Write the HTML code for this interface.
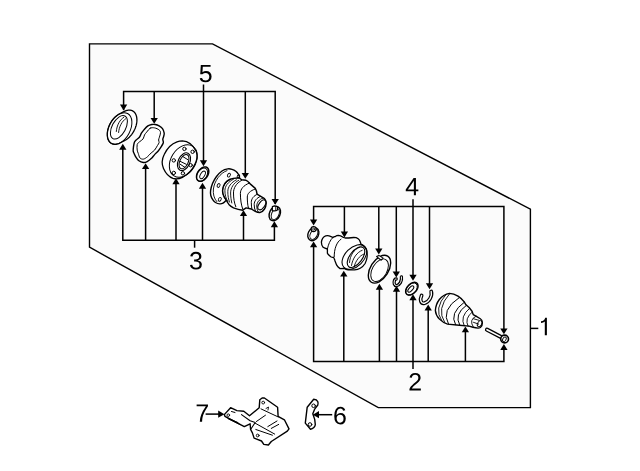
<!DOCTYPE html>
<html><head><meta charset="utf-8"><style>
html,body{margin:0;padding:0;background:#fff;width:640px;height:471px;overflow:hidden}
svg{display:block}
</style></head><body>
<svg width="640" height="471" viewBox="0 0 640 471">
<polygon points="89.5,43.9 212.5,43.9 530.4,209.2 530.4,407.6 378.3,407.6 89.5,247.2" fill="#fbfbfb" stroke="#000" stroke-width="1.4" stroke-linejoin="miter"/>
<g stroke="#000" stroke-width="1.5" fill="none"><polyline points="123.6,110 123.6,91.6 275.2,91.6 275.2,204" fill="none"/><polygon points="119.95,104.60 127.25,104.60 123.60,110.50" fill="#000" stroke="none"/><line x1="154.2" y1="91.6" x2="154.2" y2="120.8"/><polygon points="150.55,117.90 157.85,117.90 154.20,123.80" fill="#000" stroke="none"/><line x1="203.5" y1="84.5" x2="203.5" y2="163.2"/><polygon points="199.85,160.30 207.15,160.30 203.50,166.20" fill="#000" stroke="none"/><line x1="245.3" y1="91.6" x2="245.3" y2="175.8"/><polygon points="241.65,172.90 248.95,172.90 245.30,178.80" fill="#000" stroke="none"/><polygon points="271.55,198.90 278.85,198.90 275.20,204.80" fill="#000" stroke="none"/><polyline points="122.8,146 122.8,240.3 274.4,240.3 274.4,224" fill="none"/><polygon points="119.15,149.70 126.45,149.70 122.80,143.80" fill="#000" stroke="none"/><line x1="145.6" y1="240.3" x2="145.6" y2="166.2"/><polygon points="141.95,169.10 149.25,169.10 145.60,163.20" fill="#000" stroke="none"/><line x1="176.0" y1="240.3" x2="176.0" y2="181.3"/><polygon points="172.35,184.20 179.65,184.20 176.00,178.30" fill="#000" stroke="none"/><line x1="202.5" y1="240.3" x2="202.5" y2="185.8"/><polygon points="198.85,188.70 206.15,188.70 202.50,182.80" fill="#000" stroke="none"/><line x1="243.5" y1="240.3" x2="243.5" y2="213.2"/><polygon points="239.85,216.10 247.15,216.10 243.50,210.20" fill="#000" stroke="none"/><polygon points="270.75,227.20 278.05,227.20 274.40,221.30" fill="#000" stroke="none"/><line x1="194.6" y1="240.3" x2="194.6" y2="247.7"/><polyline points="313.6,222 313.6,206.5 503.9,206.5 503.9,330" fill="none"/><polygon points="309.95,219.50 317.25,219.50 313.60,225.40" fill="#000" stroke="none"/><line x1="344.4" y1="206.5" x2="344.4" y2="234.4"/><polygon points="340.75,231.50 348.05,231.50 344.40,237.40" fill="#000" stroke="none"/><line x1="378.8" y1="206.5" x2="378.8" y2="251.5"/><polygon points="375.15,248.60 382.45,248.60 378.80,254.50" fill="#000" stroke="none"/><line x1="396.3" y1="206.5" x2="396.3" y2="274.5"/><polygon points="392.65,271.60 399.95,271.60 396.30,277.50" fill="#000" stroke="none"/><line x1="413.0" y1="199.3" x2="413.0" y2="277.7"/><polygon points="409.35,274.80 416.65,274.80 413.00,280.70" fill="#000" stroke="none"/><line x1="429.5" y1="206.5" x2="429.5" y2="286.2"/><polygon points="425.85,283.30 433.15,283.30 429.50,289.20" fill="#000" stroke="none"/><polygon points="500.25,328.40 507.55,328.40 503.90,334.30" fill="#000" stroke="none"/><polyline points="313.6,244 313.6,361.5 503.9,361.5 503.9,348" fill="none"/><polygon points="309.95,247.30 317.25,247.30 313.60,241.40" fill="#000" stroke="none"/><line x1="343.8" y1="361.5" x2="343.8" y2="273.7"/><polygon points="340.15,276.60 347.45,276.60 343.80,270.70" fill="#000" stroke="none"/><line x1="379.4" y1="361.5" x2="379.4" y2="286.8"/><polygon points="375.75,289.70 383.05,289.70 379.40,283.80" fill="#000" stroke="none"/><line x1="396.5" y1="361.5" x2="396.5" y2="288.8"/><polygon points="392.85,291.70 400.15,291.70 396.50,285.80" fill="#000" stroke="none"/><line x1="413.0" y1="368.9" x2="413.0" y2="297.3"/><polygon points="409.35,300.20 416.65,300.20 413.00,294.30" fill="#000" stroke="none"/><line x1="428.2" y1="361.5" x2="428.2" y2="307.5"/><polygon points="424.55,310.40 431.85,310.40 428.20,304.50" fill="#000" stroke="none"/><line x1="465.4" y1="361.5" x2="465.4" y2="329.4"/><polygon points="461.75,332.30 469.05,332.30 465.40,326.40" fill="#000" stroke="none"/><polygon points="500.25,349.90 507.55,349.90 503.90,344.00" fill="#000" stroke="none"/><line x1="530.5" y1="328.4" x2="538.3" y2="328.4"/><line x1="205.6" y1="414.1" x2="220" y2="414.1"/><polygon points="218.2,410.6 218.2,417.8 224.4,414.2" fill="#000" stroke="none"/><line x1="317" y1="414.7" x2="332.2" y2="414.7"/><polygon points="319,411.1 319,418.3 312.8,414.7" fill="#000" stroke="none"/></g>
<g stroke="#000" stroke-width="1.3" fill="#fff" stroke-linejoin="round" stroke-linecap="round"><!-- A seal -->
<g>
<path d="M107.30,134.08 L107.34,133.30 L107.40,132.50 L107.50,131.70 L107.64,130.88 L107.80,130.06 L108.00,129.23 L108.23,128.41 L108.49,127.58 L108.79,126.75 L109.11,125.93 L109.46,125.12 L109.84,124.32 L110.24,123.52 L110.67,122.74 L111.13,121.98 L111.60,121.24 L112.10,120.51 L112.63,119.81 L113.17,119.13 L113.72,118.47 L114.30,117.85 L114.88,117.25 L115.49,116.69 L116.10,116.15 L116.72,115.65 L117.35,115.19 L117.99,114.76 L118.63,114.37 L119.27,114.02 L124.27,111.42 L124.91,111.10 L125.56,110.83 L126.20,110.60 L126.83,110.41 L127.46,110.27 L128.08,110.16 L128.70,110.10 L129.30,110.09 L129.89,110.11 L130.46,110.18 L131.02,110.30 L131.56,110.45 L132.08,110.65 L132.58,110.89 L133.06,111.17 L133.52,111.49 L133.95,111.85 L134.35,112.25 L134.73,112.69 L135.08,113.16 L135.40,113.67 L135.70,114.21 L135.96,114.79 L136.19,115.39 L136.39,116.02 L136.56,116.68 L136.69,117.37 L136.79,118.08 L136.86,118.81 L136.90,119.55 L136.90,120.32 L136.86,121.10 L136.80,121.90 L136.70,122.70 L136.56,123.52 L136.40,124.34 L136.20,125.17 L135.97,125.99 L135.71,126.82 L135.41,127.65 L135.09,128.47 L134.74,129.28 L134.36,130.08 L133.96,130.88 L133.53,131.66 L133.07,132.42 L132.60,133.16 L132.10,133.89 L131.57,134.59 L131.03,135.27 L130.48,135.93 L129.90,136.55 L129.32,137.15 L128.71,137.71 L128.10,138.25 L127.48,138.75 L126.85,139.21 L126.21,139.64 L125.57,140.03 L124.93,140.38 L119.93,142.98 L119.29,143.30 L118.64,143.57 L118.00,143.80 L117.37,143.99 L116.74,144.13 L116.12,144.24 L115.50,144.30 L114.90,144.31 L114.31,144.29 L113.74,144.22 L113.18,144.10 L112.64,143.95 L112.12,143.75 L111.62,143.51 L111.14,143.23 L110.68,142.91 L110.25,142.55 L109.85,142.15 L109.47,141.71 L109.12,141.24 L108.80,140.73 L108.50,140.19 L108.24,139.61 L108.01,139.01 L107.81,138.38 L107.64,137.72 L107.51,137.03 L107.41,136.32 L107.34,135.59 L107.30,134.85 Z"/>
<ellipse cx="119.6" cy="128.5" rx="10.6" ry="17" transform="rotate(28 119.6 128.5)" fill="none" stroke-width="1"/>
<ellipse cx="118.9" cy="127.3" rx="6.8" ry="12.8" transform="rotate(28 118.9 127.3)" fill="none" stroke-width="1"/>
<path d="M123.8,117.3 C120,119.5 116.8,125 116.3,131.5 M125.6,118.8 C122.2,121 119,126.5 118.6,132.5" fill="none" stroke-width="0.9"/>
</g>
<!-- B gasket -->
<path d="M151.80,124.50 C153.02,124.27 153.98,124.27 155.20,124.50 C156.42,124.73 157.88,125.20 159.10,125.90 C160.32,126.60 161.65,127.48 162.50,128.70 C163.35,129.92 164.02,131.88 164.20,133.20 C164.38,134.52 163.83,135.57 163.60,136.60 C163.37,137.63 162.85,138.55 162.80,139.40 C162.75,140.25 163.25,141.03 163.30,141.70 C163.35,142.37 163.52,142.47 163.10,143.40 C162.68,144.33 161.65,146.00 160.80,147.30 C159.95,148.60 159.03,149.98 158.00,151.20 C156.97,152.42 155.73,153.37 154.60,154.60 C153.47,155.83 152.52,157.38 151.20,158.60 C149.88,159.82 148.00,161.25 146.70,161.90 C145.40,162.55 144.70,162.68 143.40,162.50 C142.10,162.32 140.12,161.65 138.90,160.80 C137.68,159.95 136.85,158.52 136.10,157.40 C135.35,156.28 134.88,155.13 134.40,154.10 C133.92,153.07 133.35,152.43 133.20,151.20 C133.05,149.97 133.30,148.20 133.50,146.70 C133.70,145.20 133.97,143.32 134.40,142.20 C134.83,141.08 135.27,140.83 136.10,140.00 C136.93,139.17 138.52,138.33 139.40,137.20 C140.28,136.07 140.65,134.42 141.40,133.20 C142.15,131.98 142.82,131.12 143.90,129.90 C144.98,128.68 146.58,126.80 147.90,125.90 C149.22,125.00 150.58,124.73 151.80,124.50 Z" stroke-width="1.4"/>
<path d="M150.10,128.20 C151.42,127.50 153.10,127.62 154.60,127.90 C156.10,128.18 158.12,129.10 159.10,129.90 C160.08,130.70 160.45,131.48 160.50,132.70 C160.55,133.92 159.72,135.98 159.40,137.20 C159.08,138.42 158.65,139.10 158.60,140.00 C158.55,140.90 159.30,141.67 159.10,142.60 C158.90,143.53 158.15,144.35 157.40,145.60 C156.65,146.85 155.63,148.88 154.60,150.10 C153.57,151.32 152.42,151.77 151.20,152.90 C149.98,154.03 148.60,155.87 147.30,156.90 C146.00,157.93 144.62,158.92 143.40,159.10 C142.18,159.28 140.85,158.93 140.00,158.00 C139.15,157.07 138.77,154.82 138.30,153.50 C137.83,152.18 137.38,151.60 137.20,150.10 C137.02,148.60 136.83,145.87 137.20,144.50 C137.57,143.13 138.42,142.83 139.40,141.90 C140.38,140.97 142.25,140.07 143.10,138.90 C143.95,137.73 143.90,136.03 144.50,134.90 C145.10,133.77 145.77,133.22 146.70,132.10 C147.63,130.98 148.78,128.90 150.10,128.20 Z" fill="none" stroke-width="1"/>
<!-- C flange -->
<g>
<path d="M182.4,140.9 C188,141 193,145 196.3,151.5 C197.5,155 197,160 195,164 C192.5,169.5 188,174.5 182.4,177.3 C179,179 176,179.2 173,178.3 C169,177 165.5,173 163.5,168.5 C161.8,164.5 162.2,158.5 164.2,154.5 C167,148.5 172,143.5 177,141.8 C179,141.1 181,140.9 182.4,140.9 Z"/>
<ellipse cx="183.3" cy="161" rx="12.3" ry="17.5" transform="rotate(32 183.3 161)" fill="none" stroke-width="1"/>
<ellipse cx="184" cy="161.7" rx="5.8" ry="9.4" transform="rotate(25 184 161.7)" fill="none" stroke-width="1.1"/>
<ellipse cx="184" cy="161.7" rx="4.2" ry="7.6" transform="rotate(25 184 161.7)" fill="none" stroke-width="1"/>
<path d="M182.4,156.3 L187.7,159.6 M180.3,161.4 L186.3,164.3 M180.3,164.3 L184.8,167.3" fill="none" stroke-width="1"/>
<circle cx="184.4" cy="148.9" r="1.7" fill="none" stroke-width="1"/>
<circle cx="192.6" cy="151.8" r="1.7" fill="none" stroke-width="1"/>
<circle cx="173.8" cy="160.4" r="1.7" fill="none" stroke-width="1"/>
<circle cx="190.6" cy="165.2" r="1.7" fill="none" stroke-width="1"/>
<circle cx="173.8" cy="172.9" r="1.7" fill="none" stroke-width="1"/>
<circle cx="182.9" cy="173.3" r="1.7" fill="none" stroke-width="1"/>
</g>
<!-- D ring 5 -->
<path d="M196.54,176.62 L196.55,176.28 L196.58,175.94 L196.62,175.60 L196.68,175.25 L196.76,174.90 L196.85,174.55 L196.95,174.20 L197.07,173.85 L197.20,173.50 L197.35,173.16 L197.50,172.82 L197.67,172.48 L197.86,172.15 L198.05,171.83 L198.26,171.51 L198.47,171.20 L198.70,170.91 L198.93,170.62 L199.18,170.34 L199.43,170.08 L199.69,169.83 L200.79,168.83 L201.05,168.59 L201.32,168.36 L201.60,168.15 L201.88,167.95 L202.17,167.77 L202.46,167.61 L202.74,167.46 L203.04,167.33 L203.33,167.21 L203.62,167.12 L203.91,167.04 L204.20,166.97 L204.48,166.93 L204.76,166.91 L205.04,166.90 L205.31,166.91 L205.58,166.94 L205.84,166.99 L206.09,167.06 L206.34,167.14 L206.57,167.24 L206.80,167.36 L207.02,167.50 L207.22,167.65 L207.42,167.82 L207.60,168.01 L207.78,168.21 L207.94,168.43 L208.08,168.66 L208.21,168.90 L208.33,169.16 L208.44,169.42 L208.53,169.70 L208.61,170.00 L208.67,170.30 L208.71,170.61 L208.75,170.92 L208.76,171.25 L208.76,171.58 L208.75,171.92 L208.72,172.26 L208.68,172.60 L208.62,172.95 L208.54,173.30 L208.45,173.65 L208.35,174.00 L208.23,174.35 L208.10,174.70 L207.95,175.04 L207.80,175.38 L207.63,175.72 L207.44,176.05 L207.25,176.37 L207.04,176.69 L206.83,177.00 L206.60,177.29 L206.37,177.58 L206.12,177.86 L205.87,178.12 L205.61,178.37 L204.51,179.37 L204.25,179.61 L203.97,179.84 L203.70,180.05 L203.42,180.25 L203.13,180.43 L202.84,180.59 L202.56,180.74 L202.26,180.87 L201.97,180.99 L201.68,181.08 L201.39,181.16 L201.10,181.22 L200.82,181.27 L200.54,181.29 L200.26,181.30 L199.99,181.29 L199.72,181.26 L199.46,181.21 L199.21,181.14 L198.96,181.06 L198.73,180.96 L198.50,180.84 L198.28,180.70 L198.08,180.55 L197.88,180.38 L197.70,180.19 L197.52,179.99 L197.36,179.77 L197.22,179.54 L197.09,179.30 L196.97,179.04 L196.86,178.78 L196.77,178.50 L196.69,178.20 L196.63,177.90 L196.59,177.59 L196.55,177.28 L196.54,176.95 Z" stroke-width="1.5"/>
<ellipse cx="202.1" cy="174.6" rx="4.9" ry="7.2" transform="rotate(30 202.1 174.6)" fill="none" stroke-width="1"/>
<ellipse cx="202.6" cy="174.9" rx="2.1" ry="4.2" transform="rotate(30 202.6 174.9)" fill="none" stroke-width="0.9"/>
<!-- E left CV joint -->
<g>
<path d="M227.80,168.90 C229.47,168.62 230.67,168.92 232.00,169.30 C233.33,169.68 234.77,170.42 235.80,171.20 C236.83,171.98 237.58,172.87 238.20,174.00 C238.82,175.13 239.87,176.00 239.50,178.00 C239.13,180.00 237.42,183.17 236.00,186.00 C234.58,188.83 232.65,192.60 231.00,195.00 C229.35,197.40 227.43,199.03 226.10,200.40 C224.77,201.77 224.05,202.62 223.00,203.20 C221.95,203.78 221.05,204.02 219.80,203.90 C218.55,203.78 216.65,203.18 215.50,202.50 C214.35,201.82 213.68,200.97 212.90,199.80 C212.12,198.63 211.18,197.02 210.80,195.50 C210.42,193.98 210.32,192.70 210.60,190.70 C210.88,188.70 211.52,185.87 212.50,183.50 C213.48,181.13 214.92,178.58 216.50,176.50 C218.08,174.42 220.12,172.27 222.00,171.00 C223.88,169.73 226.13,169.18 227.80,168.90 Z" stroke-width="1.4"/>
<path d="M227,170.6 C220,173 214.5,181 213.4,189 C212.9,194 214,198.5 216.8,201.6" fill="none" stroke-width="0.9"/>
<path d="M239.3,178 L241.6,179.8 L246.1,180.3 C247.3,180.8 248.2,181.6 249,182.6 L250.7,184.4 L255.3,188.4 C256.3,190 256.8,192 257,194.1 L259.9,195.8 L264.5,198.7 C265.7,200 266.3,201.5 266.2,203.3 C266.1,205.5 265.5,207.5 264.5,209 C263.2,211 261.8,212.3 259.9,212.5 C258.2,212.6 256.6,212 255.3,211.3 L251.3,209 L246.1,207.9 L242.7,210.2 C239.5,209.8 236.5,209 233.5,207.9 C231.8,207 230.2,205.8 228.9,204.4 C227.8,203 226.8,201.5 226.1,199.8 C224,197 222.3,193.5 222.6,190.2 C223,185.5 225.5,181.5 229.5,179.5 C232.5,178.2 236,177.8 239.3,178 Z" stroke-width="1.4"/>
<path d="M230.7,179.2 C225.5,182 222.6,186 222.6,190.7 C222.6,194.5 224,198 226.1,200.4" fill="none" stroke-width="0.9"/>
<path d="M233.5,179.2 C228,182 224.9,186 224.9,190.7 C224.9,195 226,198.6 227.8,201.6" fill="none" stroke-width="0.9"/>
<path d="M236.4,179.8 C231,182.5 227.8,187 227.8,191.5 C227.8,195.8 228.5,199.3 229.5,202.1" fill="none" stroke-width="0.9"/>
<path d="M238.7,180.3 C233.5,183 230.6,188 230.6,193 C230.6,197 231.2,200.3 231.8,203" fill="none" stroke-width="0.9"/>
<path d="M241.6,180.3 C236,183.5 233.5,188 233.5,193 C233.5,198.5 234.3,203 235.8,206.7" fill="none" stroke-width="1"/>
<path d="M249,183.2 C243.5,185.5 240.4,189 240.4,193.5 C240.4,199.5 241.2,205 242.7,209" fill="none" stroke-width="1"/>
<path d="M255.3,189 C250,190.8 247.3,193.5 247.3,197 C247.3,201 247.6,205 248.4,207.9" fill="none" stroke-width="1"/>
<path d="M257.6,194.1 C253.5,195.8 251.3,198.8 251.3,202.5 C251.3,205 251.5,207.3 251.9,209" fill="none" stroke-width="1"/>
<path d="M260.5,196.4 C256.5,198 254.2,201 254.2,204.5 C254.2,207 254.6,209.2 255.3,210.7" fill="none" stroke-width="1"/>
<path d="M262.8,198.1 C259,199.5 256.8,202.5 256.8,206 C256.8,208.3 257.3,210.3 258.2,211.9" fill="none" stroke-width="1"/>
<ellipse cx="261.9" cy="204.8" rx="2.9" ry="5.6" transform="rotate(35 261.9 204.8)" fill="none" stroke-width="1.1"/>
<ellipse cx="228.9" cy="175.2" rx="1.3" ry="2" transform="rotate(30 228.9 175.2)" fill="none" stroke-width="0.9"/>
<ellipse cx="218.6" cy="185.5" rx="1.3" ry="2" transform="rotate(30 218.6 185.5)" fill="none" stroke-width="0.9"/>
<ellipse cx="219.8" cy="199.3" rx="1.3" ry="2" transform="rotate(30 219.8 199.3)" fill="none" stroke-width="0.9"/>
<ellipse cx="238.4" cy="176.4" rx="1.1" ry="1.6" transform="rotate(30 238.4 176.4)" fill="none" stroke-width="0.9"/>
</g>
<!-- F clip left -->
<g>
<ellipse cx="274.8" cy="213.6" rx="5.3" ry="7.5" transform="rotate(25 274.8 213.6)" stroke-width="1.4"/>
<ellipse cx="275.3" cy="214" rx="3.6" ry="6" transform="rotate(25 275.3 214)" fill="none" stroke-width="0.9"/>
<path d="M272.3,210.5 L272.4,206.6 L274.5,205.9 L277.6,206.6 L277.4,210 C276,211 274,211.2 272.3,210.5 Z" stroke-width="1.2"/>
<path d="M275.8,206.4 L275.7,210.5" fill="none" stroke-width="0.9"/>
</g>
<!-- G clip right -->
<g>
<ellipse cx="313.3" cy="234.2" rx="5.2" ry="6.8" transform="rotate(28 313.3 234.2)" stroke-width="1.4"/>
<ellipse cx="313.8" cy="234.4" rx="3.4" ry="5.3" transform="rotate(28 313.8 234.4)" fill="none" stroke-width="0.9"/>
<circle cx="313.6" cy="229.1" r="2.5" stroke-width="1.2"/>
<circle cx="313.6" cy="229.1" r="1" fill="none" stroke-width="0.8"/>
</g>
<!-- H inner CV joint -->
<g>
<path d="M321.4,242.2 C321.8,239 323.5,236.5 325.7,235.8 C327,235.5 328,235.5 329.1,235.8 C330.5,236.2 331.8,236.8 332.9,237.5 C333.5,237 334.2,236.8 335,236.7 C336.2,235.8 337.2,235.4 338.4,235.4 C340,235.5 341.5,236.2 342.7,237.1 L345.2,238 L348.6,238 C351,237.5 353.5,237.4 356.2,237.6 C357.8,238.2 358.8,239 359.4,240 C360.2,241.5 360.7,243 361,244.1 C362.3,244.8 363.5,245.6 364.3,246.5 C365.5,247.8 366.3,249 366.7,250.5 C367.2,252.5 367.3,254.8 367.1,257 C366.8,259.5 366.1,261.5 365.1,263.5 C363.8,265.6 362.2,267.1 360.2,268.3 C358.5,269.3 356.5,269.8 354.6,269.9 L348.1,269.9 C346.5,269.8 345.2,269.2 344.1,268.3 L340.1,268.6 C338.5,267.5 337.5,266.5 336.7,265.2 L335,260.9 C334.5,259.5 334.2,258.4 333.7,257.5 C332.5,257.3 331.5,257.1 330.8,256.7 C329.2,255.5 328,254.5 327.4,253.3 L327.4,249 C325.5,248.5 324.2,248 323.1,247.3 C322,246 321.4,244.5 321.4,242.2 Z"/>
<path d="M332.9,237.5 C330,240 328.3,244.5 327.4,249" fill="none" stroke-width="1"/>
<path d="M341,239.2 C336.5,242 334.2,249 334.2,256.7" fill="none" stroke-width="1"/>
<ellipse cx="354.4" cy="257" rx="9.3" ry="14.8" transform="rotate(45 354.4 257)" fill="none" stroke-width="1.1"/>
<ellipse cx="356" cy="257.2" rx="6.2" ry="12" transform="rotate(37 356 257.2)" fill="none" stroke-width="1.1"/>
<path d="M349.5,262.5 C350,255.5 354,249 359.5,247.3 M351.5,265.5 C352.5,258.5 357,252 362.2,250.3 M354,267 C355.5,261 359.5,255.5 364,254" fill="none" stroke-width="0.9"/>
</g>
<!-- I clamp -->
<g>
<ellipse cx="379.5" cy="269.2" rx="9" ry="15.4" transform="rotate(32 379.5 269.2)" stroke-width="1.4"/>
<ellipse cx="379.6" cy="270.2" rx="7.3" ry="12.3" transform="rotate(30 379.6 270.2)" fill="none" stroke-width="0.9"/>
<path d="M376.6,256.6 L378.9,255.4 L383.1,258.1 L381.2,260.2 Z" stroke-width="1.1"/>
</g>
<!-- J circlip -->
<path d="M401.4,276.8 C402.2,281 399.5,285.3 396.6,285.6 C394.2,285.8 393.6,282.8 394.5,280.2 C394.9,279.3 395.6,278.9 396.2,279" fill="none" stroke-width="3.3" stroke-linecap="round"/>
<path d="M401.4,276.8 C402.2,281 399.5,285.3 396.6,285.6 C394.2,285.8 393.6,282.8 394.5,280.2 C394.9,279.3 395.6,278.9 396.2,279" fill="none" stroke="#fff" stroke-width="1.0" stroke-linecap="round"/>
<!-- K ring -->
<path d="M405.70,291.40 L405.71,291.11 L405.73,290.81 L405.77,290.50 L405.83,290.19 L405.90,289.88 L405.98,289.57 L406.08,289.25 L406.20,288.94 L406.33,288.62 L406.47,288.30 L406.63,287.99 L406.80,287.68 L406.99,287.37 L407.18,287.07 L407.39,286.77 L407.61,286.48 L407.84,286.20 L408.08,285.92 L408.33,285.65 L408.59,285.40 L408.86,285.15 L409.13,284.91 L409.83,284.31 L410.11,284.08 L410.40,283.87 L410.69,283.66 L410.98,283.47 L411.28,283.30 L411.58,283.13 L411.88,282.99 L412.19,282.85 L412.49,282.73 L412.79,282.63 L413.09,282.55 L413.39,282.47 L413.69,282.42 L413.98,282.38 L414.27,282.36 L414.55,282.36 L414.82,282.37 L415.09,282.40 L415.35,282.44 L415.60,282.50 L415.84,282.58 L416.07,282.67 L416.29,282.78 L416.50,282.90 L416.70,283.04 L416.88,283.20 L417.06,283.37 L417.22,283.55 L417.36,283.74 L417.49,283.95 L417.61,284.17 L417.71,284.40 L417.80,284.65 L417.87,284.90 L417.93,285.16 L417.97,285.43 L417.99,285.71 L418.00,286.00 L417.99,286.29 L417.97,286.59 L417.93,286.90 L417.87,287.21 L417.80,287.52 L417.72,287.83 L417.62,288.15 L417.50,288.46 L417.37,288.78 L417.23,289.10 L417.07,289.41 L416.90,289.72 L416.71,290.03 L416.52,290.33 L416.31,290.63 L416.09,290.92 L415.86,291.20 L415.62,291.48 L415.37,291.75 L415.11,292.00 L414.84,292.25 L414.57,292.49 L413.87,293.09 L413.59,293.32 L413.30,293.53 L413.01,293.74 L412.72,293.93 L412.42,294.10 L412.12,294.27 L411.82,294.41 L411.51,294.55 L411.21,294.67 L410.91,294.77 L410.61,294.85 L410.31,294.93 L410.01,294.98 L409.72,295.02 L409.43,295.04 L409.15,295.04 L408.88,295.03 L408.61,295.00 L408.35,294.96 L408.10,294.90 L407.86,294.82 L407.63,294.73 L407.41,294.62 L407.20,294.50 L407.00,294.36 L406.82,294.20 L406.64,294.03 L406.48,293.85 L406.34,293.66 L406.21,293.45 L406.09,293.23 L405.99,293.00 L405.90,292.75 L405.83,292.50 L405.77,292.24 L405.73,291.97 L405.71,291.69 Z" stroke-width="1.5"/>
<ellipse cx="411.5" cy="289" rx="4.6" ry="7" transform="rotate(42 411.5 289)" fill="none" stroke-width="0.9"/>
<ellipse cx="410.8" cy="289" rx="1.8" ry="3.9" transform="rotate(42 410.8 289)" fill="none" stroke-width="1.1"/>
<!-- L snap ring -->
<path d="M431.2,291.5 C432.5,296 429,302 424.5,303.2 C421,304 419.5,300 421.6,295.5" fill="none" stroke-width="3.8" stroke-linecap="round"/>
<path d="M431.2,291.5 C432.5,296 429,302 424.5,303.2 C421,304 419.5,300 421.6,295.5" fill="none" stroke="#fff" stroke-width="1.4" stroke-linecap="round"/>
<!-- M outer CV joint -->
<g>
<path d="M435.38,310.44 C435.87,302.62 440.75,294.80 449.55,293.33 C455.42,293.33 461.28,297.73 464.21,301.84 L465.97,304.77 L469.10,307.51 L472.03,311.22 L473.21,314.54 L475.94,316.11 L480.34,318.75 C482.79,320.21 483.27,325.10 480.34,327.54 C478.88,328.52 475.94,328.03 473.01,327.25 L469.10,326.08 L459.33,325.30 L447.60,324.12 C441.73,322.17 435.87,317.28 435.38,310.44 Z" stroke-width="1.4"/>
<path d="M446.13,294.31 Q433.27,308.48 441.73,320.70" fill="none" stroke-width="0.9"/>
<path d="M449.55,293.82 Q435.96,308.87 444.66,322.36" fill="none" stroke-width="0.9"/>
<path d="M459.33,297.53 Q440.26,309.95 448.57,324.32" fill="none" stroke-width="1"/>
<path d="M464.41,302.13 Q448.87,313.27 455.61,324.81" fill="none" stroke-width="1"/>
<path d="M466.36,305.35 Q453.61,314.35 459.81,325.30" fill="none" stroke-width="1"/>
<path d="M469.59,308.29 Q459.57,316.55 464.21,325.78" fill="none" stroke-width="0.9"/>
<path d="M472.42,311.90 Q464.02,318.36 468.12,326.37" fill="none" stroke-width="0.9"/>
<path d="M475.94,316.30 Q468.37,319.63 473.50,327.25" fill="none" stroke-width="0.9"/>
<path d="M473.50,318.75 L479.36,320.41 M473.50,322.36 L478.68,324.12" fill="none" stroke-width="0.9"/>
<ellipse cx="479.66" cy="323.63" rx="2" ry="3.2" transform="rotate(30 479.66 323.63)" fill="none" stroke-width="0.9"/>
</g>
<!-- N bolt -->
<g>
<path d="M487,329.7 L500.8,336.9" fill="none" stroke-width="4.2" stroke-linecap="round"/>
<path d="M487,329.7 L500.8,336.9" fill="none" stroke="#fff" stroke-width="1.6" stroke-linecap="round"/>
<circle cx="504.6" cy="339" r="3.9" stroke-width="1.6"/>
<ellipse cx="504.4" cy="339.3" rx="1.6" ry="2.4" transform="rotate(30 504.4 339.3)" fill="none" stroke-width="0.9"/>
</g>
<!-- O bracket 7 -->
<g>
<path d="M224.3,414.6 L230.6,407.7 L236.9,410.6 L243.8,411.2 L249.5,415.8 L259.2,407.7 L259.8,399.7 L262.1,398 L264.4,398 L277.6,407.2 L278.1,416.3 L284.4,419.8 L289,428.9 L287.3,431.2 L271.3,441.5 L268.4,445 L263.8,444.4 L261.5,441 L254.1,438.1 L252.4,432.9 L250.6,429.5 L250.1,423.8 L244.3,426.6 L224.9,416.3 Z" stroke-width="1.4"/>
<path d="M241.5,414.6 L250.1,420.8 L255.2,422.5 L250.6,429.5" fill="none" stroke-width="1.1"/>
<path d="M231.5,411.5 L235,412.5 M226.6,417.5 L238,422.6 M228.5,419 L240,424.5" fill="none" stroke-width="1"/>
<path d="M255.2,423.2 L274.7,434.1 M255.8,429.5 L272.4,435.2 M261,408.9 L278.1,416.9 M256.4,421.5 L265.5,415.2 M267.8,426.6 L277,421 M271.3,428.4 L278.7,424.4" fill="none" stroke-width="1"/>
<path d="M266,408.5 L268.5,407 L268,410" fill="none" stroke-width="0.9"/>
<circle cx="228.3" cy="415.2" r="1.3" fill="none" stroke-width="0.9"/>
<circle cx="263.2" cy="402.6" r="1.4" fill="none" stroke-width="0.9"/>
<circle cx="257.7" cy="435.5" r="1.4" fill="none" stroke-width="0.9"/>
</g>
<!-- P part 6 -->
<g>
<path d="M313.7,399.2 C315.5,399.3 317,400 317.7,401.5 C318.3,403 318.3,404 317.8,405 L314.7,409.1 L312.8,413.7 L314.7,419.4 L315.3,424.5 C315.3,426.5 313,429 310.5,429.2 L305.3,423.1 L307.2,407.2 Z" stroke-width="1.4"/>
<circle cx="313.6" cy="405.8" r="1.8" fill="none" stroke-width="1"/>
<circle cx="310" cy="424.5" r="1.8" fill="none" stroke-width="1"/>
</g>
</g>
<g fill="#000" stroke="none"><path d="M211.58 76.47Q211.58 79.2 209.96 80.76Q208.34 82.32 205.47 82.32Q203.07 82.32 201.59 81.27Q200.11 80.22 199.72 78.23L201.95 77.98Q202.64 80.53 205.52 80.53Q207.29 80.53 208.29 79.46Q209.29 78.39 209.29 76.52Q209.29 74.9 208.29 73.9Q207.28 72.9 205.57 72.9Q204.68 72.9 203.91 73.18Q203.14 73.46 202.37 74.13H200.22L200.8 64.88H210.58V66.75H202.8L202.47 72.2Q203.9 71.1 206.02 71.1Q208.56 71.1 210.07 72.59Q211.58 74.08 211.58 76.47Z"/><path d="M201.83 264.56Q201.83 266.94 200.31 268.24Q198.8 269.55 195.99 269.55Q193.38 269.55 191.82 268.37Q190.27 267.19 189.97 264.89L192.24 264.68Q192.68 267.73 195.99 267.73Q197.65 267.73 198.6 266.91Q199.54 266.1 199.54 264.48Q199.54 263.08 198.46 262.29Q197.38 261.51 195.34 261.51H194.1V259.6H195.3Q197.1 259.6 198.1 258.81Q199.09 258.03 199.09 256.64Q199.09 255.26 198.28 254.46Q197.47 253.66 195.87 253.66Q194.42 253.66 193.52 254.4Q192.62 255.15 192.48 256.5L190.27 256.33Q190.51 254.22 192.02 253.03Q193.53 251.85 195.89 251.85Q198.48 251.85 199.92 253.05Q201.35 254.25 201.35 256.4Q201.35 258.05 200.43 259.08Q199.51 260.11 197.75 260.48V260.53Q199.68 260.74 200.75 261.82Q201.83 262.91 201.83 264.56Z"/><path d="M415.93 191.31V195.2H413.86V191.31H405.75V189.6L413.62 178H415.93V189.57H418.35V191.31ZM413.86 180.48Q413.83 180.55 413.51 181.13Q413.2 181.7 413.04 181.93L408.63 188.42L407.97 189.33L407.78 189.57H413.86Z"/><path d="M409.46 390.43V388.88Q410.08 387.45 410.98 386.36Q411.87 385.26 412.86 384.38Q413.85 383.49 414.82 382.74Q415.79 381.98 416.57 381.22Q417.35 380.47 417.84 379.64Q418.32 378.81 418.32 377.76Q418.32 376.34 417.49 375.56Q416.66 374.78 415.18 374.78Q413.78 374.78 412.87 375.54Q411.96 376.3 411.8 377.68L409.55 377.48Q409.8 375.41 411.3 374.19Q412.81 372.97 415.18 372.97Q417.78 372.97 419.18 374.2Q420.58 375.43 420.58 377.68Q420.58 378.68 420.12 379.67Q419.66 380.66 418.76 381.65Q417.85 382.64 415.3 384.72Q413.9 385.86 413.07 386.78Q412.24 387.71 411.87 388.56H420.84V390.43Z"/><path d="M207.98 406.28Q205.35 410.31 204.26 412.59Q203.17 414.88 202.63 417.1Q202.09 419.32 202.09 421.7H199.79Q199.79 418.4 201.19 414.76Q202.59 411.12 205.86 406.37H196.62V404.5H207.98Z"/><path d="M345.77 418.58Q345.77 421.3 344.29 422.88Q342.81 424.45 340.21 424.45Q337.31 424.45 335.77 422.29Q334.23 420.13 334.23 416Q334.23 411.54 335.83 409.14Q337.43 406.75 340.38 406.75Q344.28 406.75 345.29 410.25L343.19 410.63Q342.55 408.53 340.36 408.53Q338.48 408.53 337.45 410.28Q336.42 412.04 336.42 415.36Q337.02 414.25 338.1 413.67Q339.19 413.09 340.59 413.09Q342.97 413.09 344.37 414.57Q345.77 416.06 345.77 418.58ZM343.53 418.68Q343.53 416.81 342.62 415.8Q341.7 414.78 340.07 414.78Q338.53 414.78 337.58 415.68Q336.64 416.58 336.64 418.15Q336.64 420.14 337.62 421.41Q338.6 422.68 340.14 422.68Q341.73 422.68 342.63 421.61Q343.53 420.54 343.53 418.68Z"/><path d="M544.8,335.3 L546.9,335.3 L546.9,317.8 L545.2,317.8 C544.7,319.9 543.3,321.1 541,321.3 L541,322.9 C542.6,322.9 543.9,322.4 544.8,321.6 Z"/></g>
</svg>
</body></html>
